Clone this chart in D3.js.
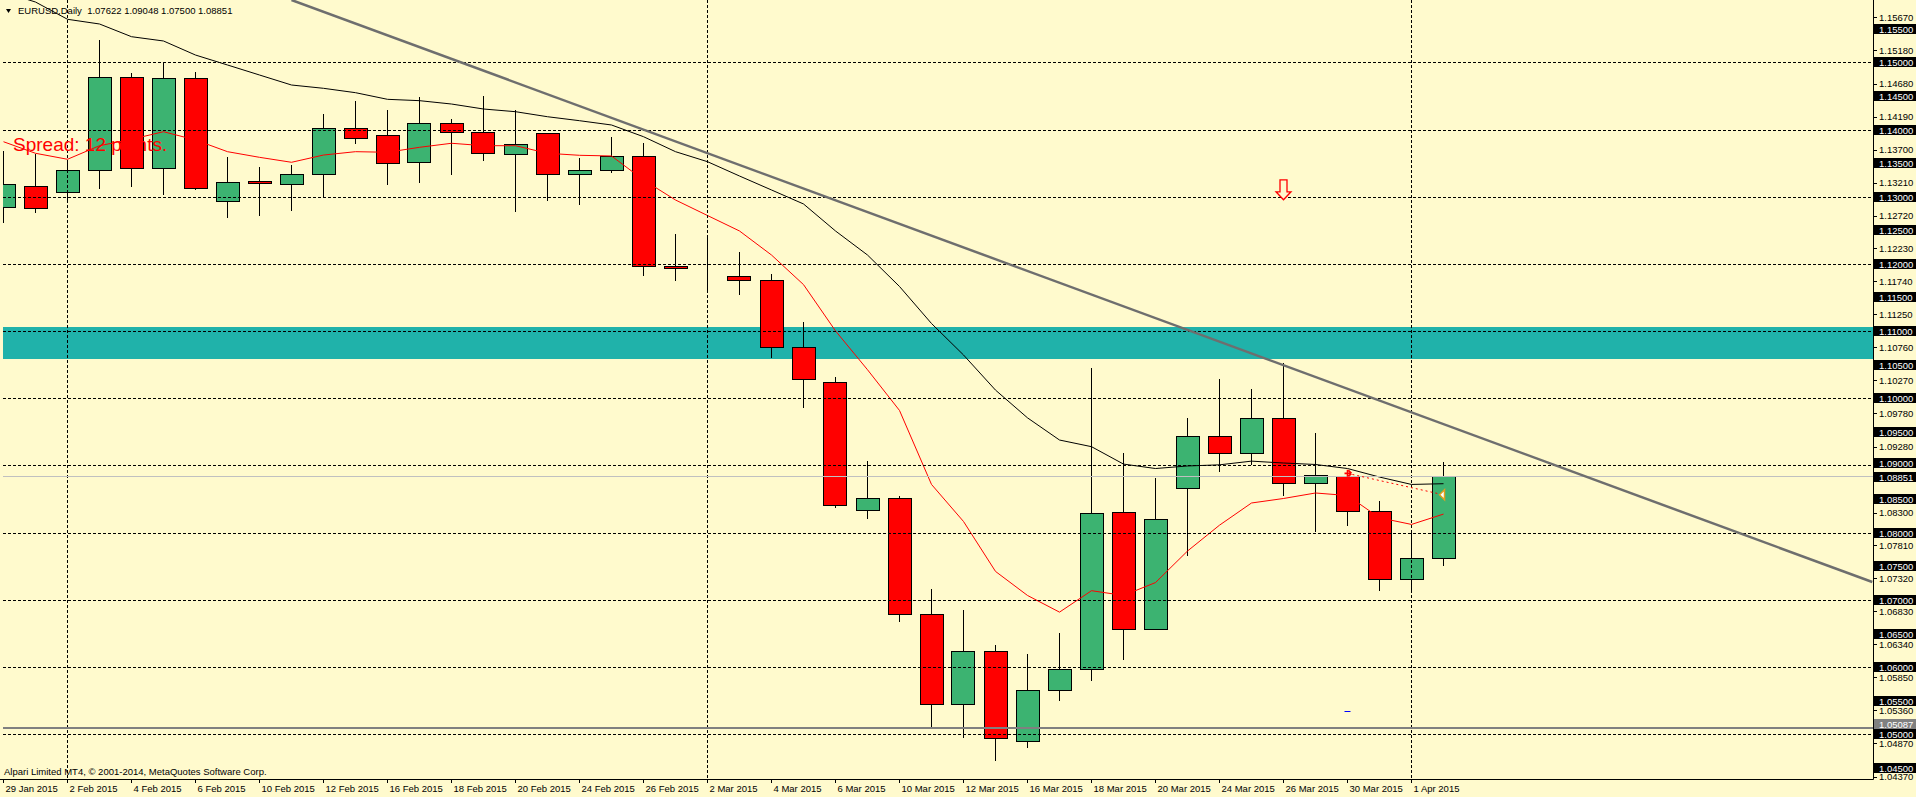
<!DOCTYPE html>
<html>
<head>
<meta charset="utf-8">
<title>EURUSD,Daily</title>
<script src="https://cdn.jsdelivr.net/npm/d3@7/dist/d3.min.js"></script>
<style>
  body { margin: 0; background: #fffacd; }
  svg { display: block; font-family: "Liberation Sans", Arial, sans-serif; }
</style>
</head>
<body>
<div id="chart"></div>
<script>
// daily bars 29 Jan - 2 Apr 2015
var dates = ["29 Jan 2015","30 Jan 2015","2 Feb 2015","3 Feb 2015","4 Feb 2015","5 Feb 2015","6 Feb 2015",
  "9 Feb 2015","10 Feb 2015","11 Feb 2015","12 Feb 2015","13 Feb 2015","16 Feb 2015","17 Feb 2015",
  "18 Feb 2015","19 Feb 2015","20 Feb 2015","23 Feb 2015","24 Feb 2015","25 Feb 2015","26 Feb 2015",
  "27 Feb 2015","2 Mar 2015","3 Mar 2015","4 Mar 2015","5 Mar 2015","6 Mar 2015","9 Mar 2015",
  "10 Mar 2015","11 Mar 2015","12 Mar 2015","13 Mar 2015","16 Mar 2015","17 Mar 2015","18 Mar 2015",
  "19 Mar 2015","20 Mar 2015","23 Mar 2015","24 Mar 2015","25 Mar 2015","26 Mar 2015","27 Mar 2015",
  "30 Mar 2015","31 Mar 2015","1 Apr 2015","2 Apr 2015"];
var opens = [1.12851,1.13155,1.13074,1.13393,1.14777,1.13423,1.14762,1.12932,1.13229,1.13185,1.13333,
  1.14018,1.13914,1.13521,1.14092,1.13958,1.13631,1.13943,1.13333,1.13393,1.13601,1.11964,1.11829,
  1.11824,1.11763,1.10766,1.10243,1.08338,1.08514,1.06785,1.05447,1.06240,1.04907,1.05656,1.05970,
  1.08305,1.06565,1.08668,1.09439,1.09186,1.09709,1.08740,1.08845,1.08321,1.07308,1.07622];
var highs = [1.13680,1.13635,1.13546,1.15332,1.14836,1.14985,1.14856,1.13591,1.13446,1.13472,1.14231,
  1.14424,1.14290,1.14479,1.14156,1.14499,1.14290,1.13943,1.13576,1.13888,1.13795,1.12440,1.12424,
  1.12182,1.11857,1.11141,1.10315,1.09070,1.08553,1.07165,1.06846,1.06333,1.06201,1.06510,1.10453,
  1.09186,1.08817,1.09709,1.10287,1.10139,1.10530,1.09489,1.08940,1.08465,1.08046,1.09048];
var lows = [1.12613,1.12762,1.12951,1.13115,1.13149,1.13025,1.13100,1.12688,1.12717,1.12792,1.13000,
  1.13784,1.13174,1.13208,1.13323,1.13531,1.12777,1.12940,1.12881,1.13348,1.11820,1.11750,1.11581,
  1.11543,1.10607,1.09863,1.08371,1.08211,1.06664,1.05111,1.04946,1.04610,1.04791,1.05502,1.05788,
  1.06108,1.06554,1.07660,1.08900,1.09010,1.08553,1.08013,1.08096,1.07126,1.07154,1.07500];
var closes = [1.13185,1.12836,1.13393,1.14777,1.13423,1.14762,1.13125,1.13214,1.13199,1.13333,1.14018,
  1.13869,1.13506,1.14092,1.13958,1.13655,1.13780,1.13333,1.13393,1.13601,1.11964,1.11935,1.11829,
  1.11763,1.10766,1.10282,1.08409,1.08514,1.06785,1.05447,1.06240,1.04946,1.05656,1.05970,1.08294,
  1.06565,1.08206,1.09439,1.09186,1.09709,1.08740,1.08856,1.08321,1.07308,1.07622,1.08851];
// moving averages
var maRed = [1.13818,1.13646,1.13557,1.13759,1.13854,1.13967,1.13844,1.13670,1.13586,1.13512,1.13620,
  1.13670,1.13661,1.13735,1.13795,1.13759,1.13759,1.13646,1.13616,1.13606,1.13249,1.12951,1.12720,
  1.12490,1.12132,1.11692,1.11003,1.10425,1.09819,1.08718,1.08167,1.07424,1.07066,1.06818,1.07137,
  1.07066,1.07258,1.07727,1.08112,1.08442,1.08509,1.08591,1.08553,1.08222,1.08123,1.08277];
var maBlack = [1.16046,1.15897,1.15640,1.15570,1.15381,1.15317,1.15108,1.14960,1.14811,1.14662,1.14613,
  1.14548,1.14449,1.14429,1.14379,1.14305,1.14265,1.14190,1.14131,1.14067,1.13893,1.13670,1.13521,
  1.13308,1.13100,1.12892,1.12490,1.12132,1.11664,1.11113,1.10645,1.10122,1.09709,1.09379,1.09280,
  1.09021,1.08955,1.08993,1.09010,1.09065,1.09037,1.09015,1.08955,1.08828,1.08718,1.08729];

var gridLevels = [1.05,1.06,1.07,1.08,1.09,1.10,1.11,1.12,1.13,1.14,1.15];
var markLevels = [1.045,1.05,1.055,1.06,1.065,1.07,1.075,1.08,1.085,1.09,1.095,1.10,1.105,1.11,
  1.115,1.12,1.125,1.13,1.135,1.14,1.145,1.15,1.155];
var scaleTicks = [1.15670,1.15180,1.14680,1.14190,1.13700,1.13210,1.12720,1.12230,1.11740,1.11250,
  1.10760,1.10270,1.09780,1.09280,1.08790,1.08300,1.07810,1.07320,1.06830,1.06340,1.05850,1.05360,
  1.04870,1.04370];
var separators = [2, 22, 44];
var zone = [1.11065, 1.10580];
var trendIdx = [9, 58.4], trendPrice = [1.15927, 1.07266];
var bidPrice = 1.08851;
var grayLevel = 1.05087;
var sellArrow = {i: 40, price: 1.12954};
var orderFrom = {i: 42, price: 1.08883}, orderTo = {i: 45, price: 1.08564};
var blueMark = {i: 42, price: 1.05342};

var w = 1916, h = 797;
var plotL = 3, plotR = 1873, plotB = 779;

var x = d3.scaleLinear().domain([0, 45]).range([3.5, 1443.5]);
var y = d3.scaleLinear().domain([1.05, 1.15]).range([734.3, 62.3]);
var cy = function(v) { return Math.round(y(v)) + 0.5; };

var bars = dates.map(function(d, i) {
  return {i: i, date: d, o: opens[i], h: highs[i], l: lows[i], c: closes[i]};
});

var svg = d3.select("#chart").append("svg")
  .attr("width", w).attr("height", h);

svg.append("rect").attr("width", w).attr("height", h).attr("fill", "#fffacd");

svg.append("clipPath").attr("id", "plotclip")
  .append("rect").attr("x", plotL).attr("y", 0).attr("width", plotR - plotL).attr("height", plotB);

var plot = svg.append("g").attr("clip-path", "url(#plotclip)");

// support zone
plot.append("rect")
  .attr("x", plotL).attr("width", plotR - plotL)
  .attr("y", Math.round(y(zone[0])))
  .attr("height", Math.round(y(zone[1])) - Math.round(y(zone[0])))
  .attr("fill", "#20b2aa");

// candles
plot.selectAll("line.wick")
  .data(bars).enter().append("line")
  .attr("class", "wick")
  .attr("x1", function(d) { return x(d.i); })
  .attr("x2", function(d) { return x(d.i); })
  .attr("y1", function(d) { return Math.round(y(d.h)); })
  .attr("y2", function(d) { return Math.round(y(d.l)); })
  .attr("stroke", "#000").attr("stroke-width", 1);

plot.selectAll("rect.body")
  .data(bars).enter().append("rect")
  .attr("class", "body")
  .attr("x", function(d) { return Math.round(x(d.i) - 12) + 0.5; })
  .attr("y", function(d) { return cy(Math.max(d.o, d.c)); })
  .attr("width", 23)
  .attr("height", function(d) { return Math.max(0, Math.round(y(Math.min(d.o, d.c))) - Math.round(y(Math.max(d.o, d.c)))); })
  .attr("fill", function(d) { return d.c >= d.o ? "#3cb371" : "#ff0000"; })
  .attr("stroke", "#000").attr("stroke-width", function(d) { return d.o === d.c ? 2 : 1; });

// moving averages
var maLine = d3.line()
  .x(function(d, i) { return x(i); })
  .y(function(d) { return y(d); });

plot.append("path").datum(maBlack)
  .attr("d", maLine).attr("fill", "none").attr("stroke", "#000").attr("stroke-width", 1);
plot.append("path").datum(maRed)
  .attr("d", maLine).attr("fill", "none").attr("stroke", "#ff0000").attr("stroke-width", 1);

// horizontal dashed levels
plot.selectAll("line.level")
  .data(gridLevels).enter().append("line")
  .attr("class", "level")
  .attr("x1", plotL).attr("x2", plotR)
  .attr("y1", cy).attr("y2", cy)
  .attr("stroke", "#000").attr("stroke-dasharray", "3,2");

// month separators
plot.selectAll("line.sep")
  .data(separators).enter().append("line")
  .attr("class", "sep")
  .attr("x1", function(d) { return x(d); }).attr("x2", function(d) { return x(d); })
  .attr("y1", 0).attr("y2", plotB)
  .attr("stroke", "#000").attr("stroke-dasharray", "3,2");

// bid line and other horizontal line
plot.append("line")
  .attr("x1", plotL).attr("x2", plotR).attr("y1", cy(bidPrice)).attr("y2", cy(bidPrice))
  .attr("stroke", "#c0c0c0");
plot.append("line")
  .attr("x1", plotL).attr("x2", plotR).attr("y1", Math.round(y(grayLevel))).attr("y2", Math.round(y(grayLevel)))
  .attr("stroke", "#808080").attr("stroke-width", 2);

// trendline
plot.append("line")
  .attr("x1", x(trendIdx[0])).attr("y1", y(trendPrice[0]))
  .attr("x2", x(trendIdx[1])).attr("y2", y(trendPrice[1]))
  .attr("stroke", "#6e6e6e").attr("stroke-width", 2.5);

// sell arrow (hollow, pointing down)
var ax = x(sellArrow.i), ay = y(sellArrow.price);
plot.append("path")
  .attr("d", "M" + ax + "," + ay + " l-7.5,-8 h4 v-12 h7 v12 h4 z")
  .attr("fill", "#fffacd").attr("stroke", "#ff0000").attr("stroke-width", 1.3);

// order line
var ox1 = x(orderFrom.i), oy1 = y(orderFrom.price), ox2 = x(orderTo.i), oy2 = y(orderTo.price);
plot.append("line")
  .attr("x1", ox1).attr("y1", oy1).attr("x2", ox2).attr("y2", oy2)
  .attr("stroke", "#ff0000").attr("stroke-dasharray", "2,3");
plot.append("path")
  .attr("d", "M" + (ox1 - 3) + "," + oy1 + " h7 M" + ox1 + "," + (oy1 - 3.5) + " v7 M" + (ox1 + 4) + "," + oy1 + " l-3,-3 M" + (ox1 + 4) + "," + oy1 + " l-3,3")
  .attr("stroke", "#ff0000").attr("stroke-width", 1.6).attr("fill", "none");
plot.append("path")
  .attr("d", "M" + (ox2 - 4) + "," + oy2 + " l5,-5 v10 z")
  .attr("fill", "#fff").attr("stroke", "#e0a020").attr("stroke-width", 1.5);
plot.append("line")
  .attr("x1", x(blueMark.i) - 3).attr("x2", x(blueMark.i) + 3)
  .attr("y1", cy(blueMark.price)).attr("y2", cy(blueMark.price))
  .attr("stroke", "#0000ff");

// frame
svg.append("path")
  .attr("d", "M" + (plotR + 0.5) + ",0 V" + (plotB + 0.5) + " H0")
  .attr("fill", "none").attr("stroke", "#000");

// time axis
svg.selectAll("line.xtick")
  .data(bars.filter(function(d) { return d.i % 2 === 0; })).enter().append("line")
  .attr("class", "xtick")
  .attr("x1", function(d) { return x(d.i); }).attr("x2", function(d) { return x(d.i); })
  .attr("y1", plotB).attr("y2", plotB + 4)
  .attr("stroke", "#000");
svg.selectAll("text.xlab")
  .data(bars.filter(function(d) { return d.i % 2 === 0; })).enter().append("text")
  .attr("class", "xlab")
  .attr("x", function(d) { return Math.max(2, x(d.i) + 2); })
  .attr("y", 792)
  .attr("font-size", "9.5px").attr("fill", "#000")
  .text(function(d) { return d.date; });

// price scale (the tick hidden under the bid box is left out)
var shownTicks = scaleTicks.filter(function(v) { return Math.abs(v - bidPrice) > 0.0008; });
svg.selectAll("line.ytick")
  .data(scaleTicks).enter().append("line")
  .attr("class", "ytick")
  .attr("x1", plotR).attr("x2", plotR + 4)
  .attr("y1", cy).attr("y2", cy)
  .attr("stroke", "#000");
svg.selectAll("text.ylab")
  .data(shownTicks).enter().append("text")
  .attr("class", "ylab")
  .attr("x", 1879).attr("y", function(d) { return y(d) + 3.5; })
  .attr("font-size", "9.5px").attr("fill", "#000")
  .text(function(d) { return d.toFixed(5); });

// boxes nudged where two of them would collide, as the terminal does
var boxShift = {"1.09000": -2, "1.08851": 1, "1.05087": -4};
function priceBox(v, bg, fg) {
  var key = v.toFixed(5), dy = boxShift[key] || 0;
  var g = svg.append("g");
  g.append("rect").attr("x", 1874).attr("y", Math.round(y(v)) - 5 + dy)
    .attr("width", 42).attr("height", 10).attr("fill", bg);
  g.append("text").attr("x", 1879).attr("y", Math.round(y(v)) + 3.5 + dy)
    .attr("font-size", "9.5px").attr("fill", fg).text(key);
}
priceBox(grayLevel, "#808080", "#fff");
markLevels.forEach(function(v) { priceBox(v, "#000", "#fff"); });
priceBox(bidPrice, "#000", "#fff");

// texts
svg.append("path").attr("d", "M6,9 h5 l-2.5,4 z").attr("fill", "#000");
svg.append("text")
  .attr("x", 18).attr("y", 14).attr("font-size", "9.5px").attr("fill", "#000")
  .style("white-space", "pre")
  .text("EURUSD,Daily  1.07622 1.09048 1.07500 1.08851");
svg.append("text")
  .attr("x", 4).attr("y", 775).attr("font-size", "9.5px").attr("fill", "#000")
  .text("Alpari Limited MT4, \u00a9 2001-2014, MetaQuotes Software Corp.");
svg.append("text")
  .attr("x", 13).attr("y", 151).attr("font-size", "19px").attr("fill", "#ff0000")
  .text("Spread: 12 points.");
</script>
</body>
</html>
